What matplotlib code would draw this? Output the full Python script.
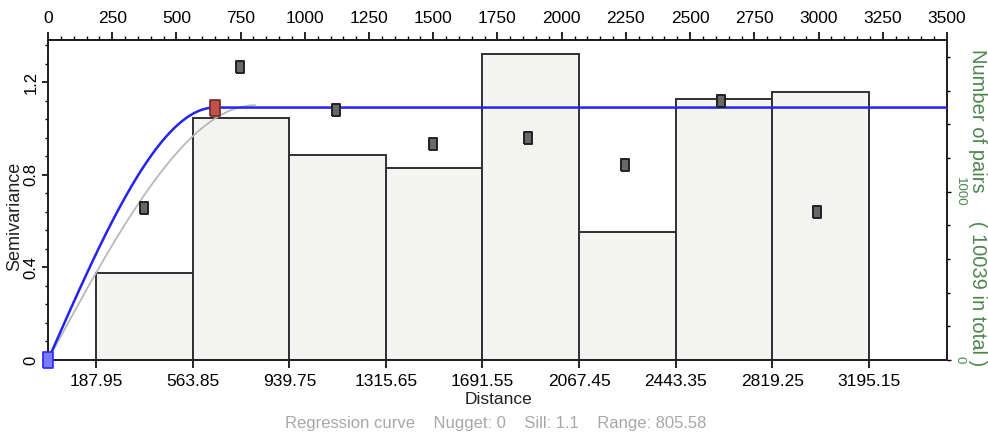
import numpy as np
import matplotlib
matplotlib.use("Agg")
import matplotlib.pyplot as plt
from matplotlib.ticker import MultipleLocator, FixedLocator

# lag classes (distance bins) and number of pairs per class
lag_start = 187.95
lag_width = 375.9
n_lags = 8
pairs = [517, 1438, 1219, 1141, 1819, 760, 1552, 1593]

# experimental semivariogram: mean distance and semivariance per lag
lag_dist = [372, 749, 1122, 1497, 1870, 2246, 2619, 2994]
semivar = [0.658, 1.264, 1.079, 0.933, 0.957, 0.842, 1.118, 0.640]

# fitted (regression) model and the adjusted model
nugget = 0.0
sill = 1.1
model_range = 805.58
adj_sill = 1.09
adj_range = 649.0

total_pairs = 10039
semi_ticks = [0, 0.4, 0.8, 1.2]
pair_ticks = [0, 1000]


def spherical(h, c0, c, a):
    h = np.asarray(h, dtype=float)
    r = np.clip(h / a, 0, 1)
    return c0 + (c - c0) * (1.5 * r - 0.5 * r ** 3)


W, H = 988, 441
fig = plt.figure(figsize=(W / 100, H / 100), dpi=100)
rect = [48 / W, 1 - 360 / H, (947 - 48) / W, 320 / H]

narrow = ["Liberation Sans Narrow", "Liberation Sans", "DejaVu Sans"]
wide = ["Liberation Sans", "DejaVu Sans"]
green = "#4d874d"

# host axes: pairs histogram
axp = fig.add_axes(rect)
edges = lag_start + lag_width * np.arange(n_lags + 1)
axp.bar(edges[:-1], pairs, width=np.diff(edges), align="edge",
        facecolor="#f4f5f2", edgecolor="#303030", linewidth=1.4, zorder=2)
axp.set_xlim(0, 3500)
axp.set_ylim(0, 1901)

# bottom axis: lag class boundaries
axp.set_xticks(edges)
axp.set_xticklabels([f"{e:.2f}" for e in edges], family=narrow, fontsize=12.5)
axp.tick_params(axis="x", direction="out", length=6, width=1.2, pad=4)

# semivariance axes drawn above the bars
ax = axp.twinx()

# pairs scale on the right (after twinx, which moves host ticks left)
axp.yaxis.tick_right()
axp.yaxis.set_major_locator(FixedLocator(pair_ticks))
axp.yaxis.set_minor_locator(MultipleLocator(200))
axp.set_yticklabels([str(v) for v in pair_ticks], rotation=-90, va="center",
                    family=wide, fontsize=9.5, color=green)
axp.tick_params(axis="y", which="major", direction="out", length=3, width=1,
                pad=2)
axp.tick_params(axis="y", which="minor", direction="out", length=2, width=1)

ax.yaxis.tick_left()
ax.yaxis.set_label_position("left")
ax.set_ylim(0, 1.3817)
ax.set_xlim(0, 3500)
ax.yaxis.set_major_locator(FixedLocator(semi_ticks))
ax.yaxis.set_minor_locator(MultipleLocator(0.08))
ax.set_yticklabels([f"{v:g}" for v in semi_ticks], rotation=90, va="center",
                   family=wide, fontsize=12)
ax.tick_params(axis="y", which="major", direction="out", length=4, width=1.2,
               pad=3)
ax.tick_params(axis="y", which="minor", direction="out", length=2, width=1)
ax.tick_params(axis="x", bottom=False, labelbottom=False)

for a in (axp, ax):
    for s in a.spines.values():
        s.set_linewidth(1.3)
        s.set_color("#202020")

h = np.linspace(0, model_range, 300)
ax.plot(h, spherical(h, nugget, sill, model_range), color="#b8b8b8", lw=1.3,
        zorder=3)
h2 = np.linspace(0, 3500, 1200)
ax.plot(h2, spherical(h2, nugget, adj_sill, adj_range), color="#2323f5",
        lw=1.8, zorder=4)

pt = [(-0.67, -1), (0.67, -1), (0.67, 1), (-0.67, 1), (-0.67, -1)]
ax.plot(lag_dist, semivar, linestyle="none", marker=pt, markersize=9,
        markerfacecolor="#686868", markeredgecolor="#222222",
        markeredgewidth=1.4, zorder=5)

hp = [(-0.62, -1), (0.62, -1), (0.62, 1), (-0.62, 1), (-0.62, -1)]
ax.plot([adj_range], [adj_sill], linestyle="none", marker=hp, markersize=12,
        markerfacecolor="#c4504a", markeredgecolor="#6a2a26",
        markeredgewidth=1.2, zorder=6)
op = [(-0.7, -1), (0.7, -1), (0.7, 1), (-0.7, 1), (-0.7, -1)]
ax.plot([0], [nugget], linestyle="none", marker=op, markersize=11,
        markerfacecolor="#7a7af5", markeredgecolor="#2a2aef",
        markeredgewidth=1.2, zorder=7, clip_on=False)

# top distance scale
top = ax.secondary_xaxis("top")
top.set_xticks(np.arange(0, 3501, 250))
top.xaxis.set_minor_locator(MultipleLocator(50))
top.tick_params(which="major", direction="out", length=6, width=1.2, pad=4,
                labelsize=12.5)
top.tick_params(which="minor", direction="out", length=3, width=1)
for lbl in top.get_xticklabels():
    lbl.set_family(narrow)
top.spines["top"].set_linewidth(1.3)

# axis titles and model summary
fig.text(15 / W, 1 - 216 / H, "Semivariance", rotation=90, ha="center",
         va="center", fontsize=13, family=wide, color="#202020")
fig.text(977 / W, 1 - 208 / H,
         f"Number of pairs     ( {total_pairs} in total )", rotation=-90,
         ha="center", va="center", fontsize=14.5, family=wide, color=green)
fig.text(498 / W, 1 - 400 / H, "Distance", ha="center", va="center",
         fontsize=12.5, family=narrow, color="#202020")
fig.text(496 / W, 1 - 423.5 / H,
         f"Regression curve    Nugget: {nugget:g}    Sill: {sill:g}    "
         f"Range: {model_range:.2f}",
         ha="center", va="center", fontsize=12, family=narrow, color="#a8a8a8")

fig.savefig("out.png", dpi=100)
